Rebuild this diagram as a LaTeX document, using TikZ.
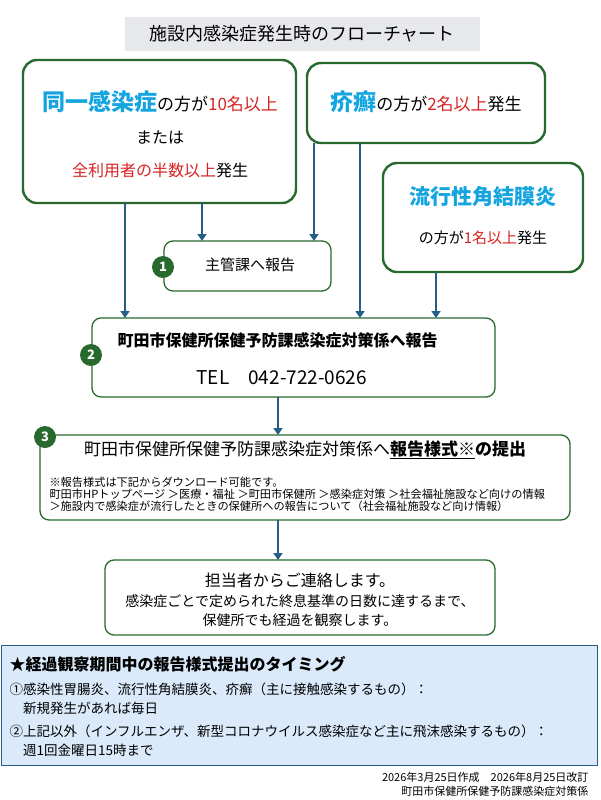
\documentclass[tikz,border=0pt]{standalone}
\usepackage{fontspec}
\setmainfont{Noto Sans CJK JP}
\usetikzlibrary{arrows.meta,positioning,calc}
\definecolor{boxgreen}{RGB}{40,105,45}
\definecolor{arrowblue}{RGB}{35,95,135}
\definecolor{keyblue}{RGB}{20,165,225}
\definecolor{keyred}{RGB}{215,35,35}
\definecolor{notefill}{RGB}{218,234,250}
\definecolor{titlegray}{RGB}{230,232,235}
\newcommand{\fsz}[1]{\fontsize{#1}{#1}\selectfont}
\newcommand{\kb}[1]{{\color{keyblue}\bfseries #1}}
\newcommand{\kr}[1]{{\color{keyred}#1}}
\tikzset{
  casebox/.style={draw=boxgreen, line width=2.4pt, rounded corners=14pt, fill=white},
  stepbox/.style={draw=boxgreen, line width=1.3pt, rounded corners=9pt, fill=white},
  flow/.style={draw=arrowblue, line width=2.6pt, -{Triangle[length=7pt,width=9pt]}},
  badge/.style={circle, fill=boxgreen, text=white, font=\bfseries\fsz{13}, minimum size=22pt, inner sep=0pt}
}
\begin{document}
\begin{tikzpicture}[x=1pt,y=-1pt]
        \useasboundingbox (0,0) rectangle (600,800);

        % Title
        \node[fill=titlegray, minimum width=355pt, minimum height=34pt, font=\fsz{18}] (title) at (302,34) {施設内感染症発生時のフローチャート};

        % Case boxes
        \draw[casebox] (23,60) rectangle (296,203);
        \node[font=\fsz{17}] (a1) at (160,102) {\kb{\fsz{23}同一感染症}の方が\kr{10名以上}};
        \node[font=\fsz{16}] (a2) at (160,138) {または};
        \node[font=\fsz{16}] (a3) at (160,170) {\kr{全利用者の半数以上}発生};

        \draw[casebox] (307,63) rectangle (545,143);
        \node[font=\fsz{17}] (b1) at (426,102) {\kb{\fsz{23}疥癬}の方が\kr{2名以上}発生};

        \draw[casebox] (383,163) rectangle (583,272);
        \node[font=\fsz{21}] (c1) at (483,197) {\kb{流行性角結膜炎}};
        \node[font=\fsz{15}] (c2) at (483,238) {の方が\kr{1名以上}発生};

        % Step boxes
        \draw[stepbox] (164,241) rectangle (331,291);
        \node[font=\fsz{15}] (s1) at (250,265) {主管課へ報告};
        \node[badge] (n1) at (163,267) {1};

        \draw[stepbox] (92,318) rectangle (495,397);
        \node[font=\bfseries\fsz{16}, anchor=west] (s2a) at (114,340) {町田市保健所保健予防課感染症対策係へ報告};
        \node[font=\fsz{19}, anchor=west] (s2b) at (193,378) {TEL\quad 042-722-0626};
        \node[badge] (n2) at (91,355) {2};

        \draw[stepbox] (40,435) rectangle (570,520);
        \node[font=\fsz{17}] (s3a) at (305,450) {町田市保健所保健予防課感染症対策係へ\textbf{\underline{報告様式※}の提出}};
        \node[font=\fsz{11.2}, anchor=west, align=left] (s3b) at (46,494) {※報告様式は下記からダウンロード可能です。\\[1pt]町田市HPトップページ ＞医療・福祉 ＞町田市保健所 ＞感染症対策 ＞社会福祉施設など向けの情報\\[1pt]＞施設内で感染症が流行したときの保健所への報告について（社会福祉施設など向け情報）};
        \node[badge] (n3) at (45,437) {3};

        \draw[stepbox] (105,560) rectangle (495,635);
        \node[font=\fsz{16}] (s4a) at (300,580) {担当者からご連絡します。};
        \node[font=\fsz{14}] (s4b) at (300,601) {感染症ごとで定められた終息基準の日数に達するまで、};
        \node[font=\fsz{14}] (s4c) at (300,620) {保健所でも経過を観察します。};

        % Arrows
        \draw[flow] (125,203) -- (125,318);
        \draw[flow] (202,203) -- (202,241);
        \draw[flow] (314,143) -- (314,241);
        \draw[flow] (360,143) -- (360,318);
        \draw[flow] (436,272) -- (436,318);
        \draw[flow] (278,397) -- (278,435);
        \draw[flow] (278,520) -- (278,560);

        % Timing note
        \draw[draw=arrowblue, line width=1pt, fill=notefill] (1,645) rectangle (597,765);
        \node[font=\bfseries\fsz{16}, anchor=west] (m0) at (6,664) {★経過観察期間中の報告様式提出のタイミング};
        \node[font=\fsz{13.5}, anchor=west] (m1) at (6,689) {①感染性胃腸炎、流行性角結膜炎、疥癬（主に接触感染するもの）：};
        \node[font=\fsz{13.5}, anchor=west] (m2) at (6,708) {\quad 新規発生があれば毎日};
        \node[font=\fsz{13.5}, anchor=west] (m3) at (6,731) {②上記以外（インフルエンザ、新型コロナウイルス感染症など主に飛沫感染するもの）：};
        \node[font=\fsz{13.5}, anchor=west] (m4) at (6,750) {\quad 週1回金曜日15時まで};

        % Footer
        \node[font=\fsz{11}, anchor=east] (f1) at (592,777) {2026年3月25日作成\quad 2026年8月25日改訂};
        \node[font=\fsz{11}, anchor=east] (f2) at (592,791) {町田市保健所保健予防課感染症対策係};
      \end{tikzpicture}
\end{document}
